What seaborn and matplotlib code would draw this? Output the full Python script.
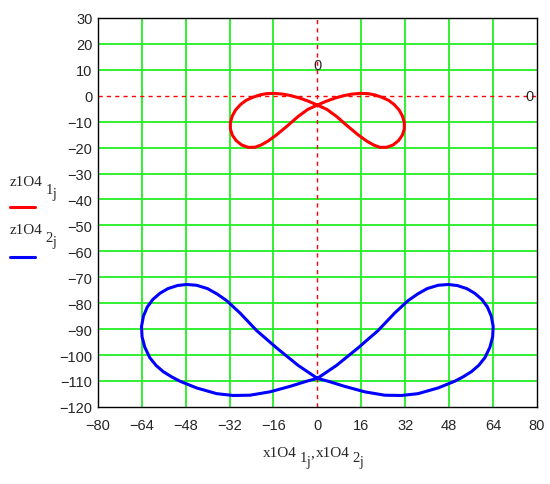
import matplotlib
matplotlib.use("Agg")
import matplotlib.pyplot as plt
from matplotlib.lines import Line2D
import seaborn as sns
import pandas as pd

## Data ##

# red curve z1O4_1 vs x1O4_1 (small figure eight)
x1 = [0, -3.3, -6.5, -9.5, -12.5, -15.5, -18.5, -21, -23.5, -26, -28, -29.8, -31,
      -31.7, -31.7, -31, -29.6, -27.6, -25.2, -22.8, -20.5, -18, -15, -11, -7, -3.5,
      0, 3.3, 6.5, 9.5, 12.5, 15.5, 18.5, 21, 23.5, 26, 28, 29.8, 31,
      31.7, 31.7, 31, 29.6, 27.6, 25.2, 22.8, 20.5, 18, 15, 11, 7, 3.5, 0]
z1 = [-3.6, -2.1, -0.9, 0.0, 0.6, 0.9, 0.8, 0.3, -0.6, -1.8, -3.4, -5.5, -7.8,
      -10.3, -12.8, -15.2, -17.3, -19.0, -19.9, -19.9, -19.0, -17.5, -15.2, -11.7, -8.0, -5.3,
      -3.6, -2.1, -0.9, 0.0, 0.6, 0.9, 0.8, 0.3, -0.6, -1.8, -3.4, -5.5, -7.8,
      -10.3, -12.8, -15.2, -17.3, -19.0, -19.9, -19.9, -19.0, -17.5, -15.2, -11.7, -8.0, -5.3, -3.6]

# blue curve z1O4_2 vs x1O4_2 (large figure eight)
x2 = [0, -7, -14.8, -22.1, -28.2, -33.1, -36.5, -40, -44, -47.7, -51, -54.5, -57.4,
      -60, -62, -63.4, -64.1, -63.9, -62.9, -61.1, -58.8, -56.2, -53, -50.1, -44,
      -36.7, -30.7, -24.6, -17.3, -10, -3.9,
      0, 7, 14.8, 22.1, 28.2, 33.1, 36.5, 40, 44, 47.7, 51, 54.5, 57.4,
      60, 62, 63.4, 64.1, 63.9, 62.9, 61.1, 58.8, 56.2, 53, 50.1, 44,
      36.7, 30.7, 24.6, 17.3, 10, 3.9, 0]
z2 = [-109, -104, -97.3, -90.6, -83.8, -79.0, -76.5, -74.4, -73.1, -72.8, -73.2, -74.4, -76.2,
      -78.6, -81.5, -85, -89, -93, -97, -101, -104, -106.4, -108.5, -110.1, -112.7,
      -114.9, -115.6, -115.5, -114.2, -112.1, -110.1,
      -109, -104, -97.3, -90.6, -83.8, -79.0, -76.5, -74.4, -73.1, -72.8, -73.2, -74.4, -76.2,
      -78.6, -81.5, -85, -89, -93, -97, -101, -104, -106.4, -108.5, -110.1, -112.7,
      -114.9, -115.6, -115.5, -114.2, -112.1, -110.1, -109]

x_ticks = list(range(-80, 81, 16))
y_ticks = list(range(-120, 31, 10))

sns.set_style("white")

W, H = 550, 485
fig = plt.figure(figsize=(5.5, 4.85), dpi=100)
ax = fig.add_axes([0.178, 0.159, 0.798, 0.802])

# green grid, red dashed zero markers
for xv in x_ticks[1:-1]:
    if xv != 0:
        ax.axvline(xv, color="#22ee22", linewidth=1.3, zorder=1)
for yv in y_ticks[1:-1]:
    if yv != 0:
        ax.axhline(yv, color="#22ee22", linewidth=1.3, zorder=1)
ax.axvline(0, color="red", linewidth=1, linestyle=(0, (3, 3)), zorder=2)
ax.axhline(0, color="red", linewidth=1, linestyle=(0, (3, 3)), zorder=2)

df1 = pd.DataFrame({"x": x1, "z": z1})
df2 = pd.DataFrame({"x": x2, "z": z2})
sns.lineplot(data=df1, x="x", y="z", sort=False, estimator=None,
             color="#ff0000", linewidth=2.2, ax=ax, zorder=3)
sns.lineplot(data=df2, x="x", y="z", sort=False, estimator=None,
             color="#0000ff", linewidth=2.2, ax=ax, zorder=3)

ax.set_xlim(-80, 80)
ax.set_ylim(-120, 30)
ax.set_xticks(x_ticks)
ax.set_yticks(y_ticks)
ax.tick_params(length=0, labelsize=10.5)
ax.tick_params(axis="x", pad=8)
ax.tick_params(axis="y", pad=4)
for lab in ax.get_xticklabels() + ax.get_yticklabels():
    lab.set_fontfamily("Liberation Sans")
for sp in ax.spines.values():
    sp.set_color("black")
    sp.set_linewidth(1)
ax.set_xlabel("")
ax.set_ylabel("")

# marker labels
ax.text(0, 12, "0", ha="center", va="center", fontsize=10.5, family="Liberation Sans")
ax.text(77.5, 0, "0", ha="center", va="center", fontsize=10.5, family="Liberation Sans")

renderer = fig.canvas.get_renderer()


def piece(x, y, s, size, drop):
    # x, y in pixels from the top-left; returns right edge in pixels
    t = fig.text(x / W, (H - y - drop) / H, s, fontsize=size,
                 family="Liberation Serif", va="baseline", ha="left")
    return t.get_window_extent(renderer).x1


def name_with_subs(x, y, name, s1, d1, d2):
    x = piece(x, y, name, 11, 0)
    x = piece(x + 3, y, s1, 10.5, d1)
    return piece(x - 0.5, y, "j", 10, d2)


# x axis label: x1O4 1j, x1O4 2j
xr = name_with_subs(263, 457, "x1O4", "1", 5, 9)
xr = piece(xr, 457, ",", 11, 0)
name_with_subs(xr + 1, 457, "x1O4", "2", 5, 9)

# legend on the left
name_with_subs(10, 186, "z1O4", "1", 8, 12)
fig.add_artist(Line2D([10 / W, 35 / W], [(H - 208) / H, (H - 208) / H],
                      color="#ff0000", linewidth=2.2))
name_with_subs(10, 234, "z1O4", "2", 8, 12)
fig.add_artist(Line2D([10 / W, 35 / W], [(H - 258) / H, (H - 258) / H],
                      color="#0000ff", linewidth=2.2))

fig.savefig("out.png", dpi=100)
